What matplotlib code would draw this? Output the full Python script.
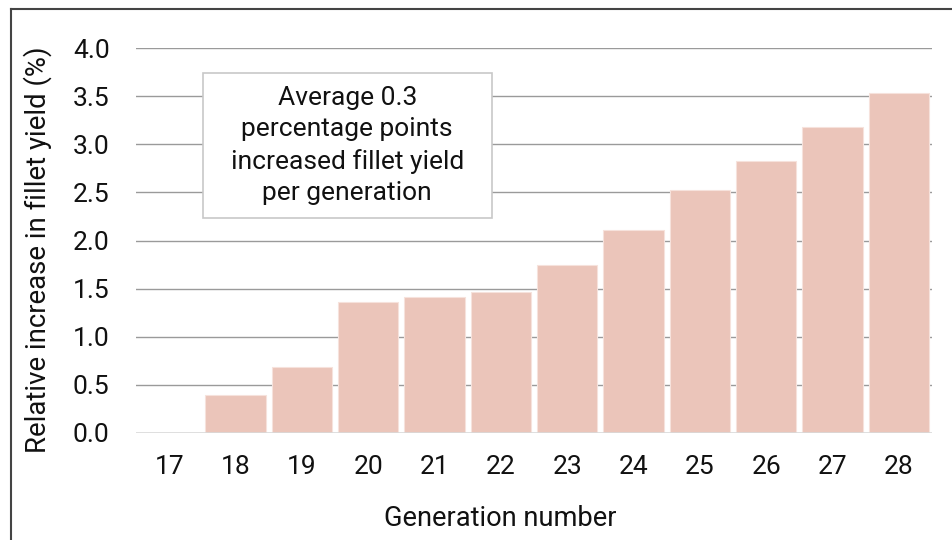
import matplotlib
matplotlib.use("Agg")
import matplotlib.pyplot as plt
from matplotlib.patches import Rectangle
from matplotlib.lines import Line2D

plt.rcParams['font.family'] = ['Roboto', 'DejaVu Sans']

generations = ["17", "18", "19", "20", "21", "22", "23", "24", "25", "26", "27", "28"]
yield_increase = [0.0, 0.39, 0.69, 1.36, 1.41, 1.47, 1.75, 2.11, 2.52, 2.83, 3.18, 3.53]
y_ticks = [0.0, 0.5, 1.0, 1.5, 2.0, 2.5, 3.0, 3.5, 4.0]
note = "Average 0.3\npercentage points\nincreased fillet yield\nper generation"

FS = 19
W, H = 952, 540

fig = plt.figure(figsize=(W / 100, H / 100), dpi=100)
ax = fig.add_axes([136 / W, 1 - 433 / H, (932 - 136) / W, (433 - 48) / H])

x = list(range(len(generations)))
ax.bar(x, yield_increase, width=0.905, color="#ebc5ba", edgecolor="#f6e2dc",
       linewidth=0.8, zorder=3)

ax.set_xlim(-0.5, len(generations) - 0.5)
ax.set_ylim(0, 4.0)
ax.set_yticks(y_ticks)
ax.set_yticklabels([f"{v:.1f}" for v in y_ticks])
ax.set_xticks(x)
ax.set_xticklabels(generations)

for v in y_ticks[1:]:
    ax.axhline(v, color="#9a9a9a", linewidth=1.0, zorder=1)
ax.axhline(0, color="#d9d9d9", linewidth=1.2, zorder=4)

for s in ax.spines.values():
    s.set_visible(False)
ax.tick_params(axis="both", length=0, labelsize=FS, colors="#111111")
ax.tick_params(axis="x", pad=16)
ax.tick_params(axis="y", pad=19)

# axis titles
fig.text(37.5 / W, 1 - 250 / H, "Relative increase in fillet yield (%)",
         rotation=90, ha="center", va="center", fontsize=19.8, color="#111111")
fig.text(500 / W, 1 - 526 / H, "Generation number",
         ha="center", va="baseline", fontsize=19.6, color="#111111")

# annotation box
box_l, box_r, box_t, box_b = 202.7, 491.7, 73, 217.7
fig.patches.append(Rectangle((box_l / W, 1 - box_b / H), (box_r - box_l) / W,
                             (box_b - box_t) / H, transform=fig.transFigure,
                             facecolor="white", edgecolor="#c8c8c8", linewidth=1.2,
                             zorder=5))
fig.text((box_l + box_r) / 2 / W, 1 - (box_t + box_b) / 2 / H, note,
         ha="center", va="center", fontsize=FS, linespacing=1.37,
         color="#111111", zorder=6)

# outer frame (top and left edges)
fig.add_artist(Line2D([10.5 / W, 10.5 / W], [0, 1 - 8.5 / H],
                      transform=fig.transFigure, color="#444444", linewidth=1.5))
fig.add_artist(Line2D([10.5 / W, 1], [1 - 8.5 / H, 1 - 8.5 / H],
                      transform=fig.transFigure, color="#444444", linewidth=1.5))

fig.savefig("out.png", dpi=100)
